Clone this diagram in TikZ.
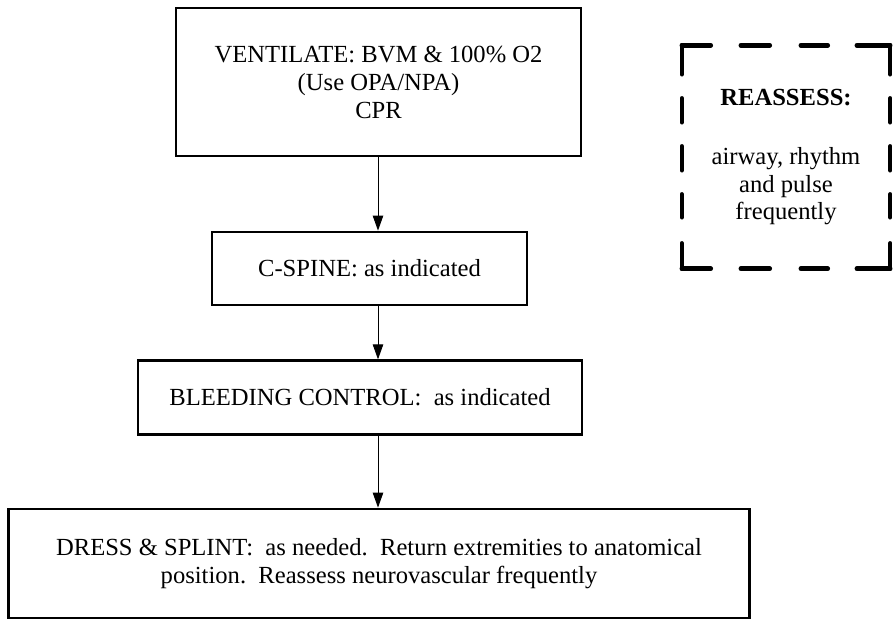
\documentclass[tikz,border=0pt]{standalone}
\usepackage{fontspec}
\setmainfont{Liberation Serif}
\usetikzlibrary{arrows.meta}
\begin{document}
\frenchspacing
\begin{tikzpicture}[x=1pt,y=-1pt,
  box/.style={draw, line width=2.8pt, inner sep=0pt, align=center, font=\fontsize{24.6}{28}\selectfont},
  arr/.style={line width=0.9pt, -{Triangle[length=15pt,width=10.5pt]}},
  dashh/.style={line width=4.5pt, line cap=round, dash pattern=on 29pt off 30pt on 29pt off 31pt on 27pt off 29pt on 40pt},
  dashv/.style={line width=4.5pt, line cap=round, dash pattern=on 29pt off 24pt on 24pt off 24pt on 24pt off 24pt on 23pt off 26pt on 40pt}]
\useasboundingbox (0,0) rectangle (893,620);
\node[box, minimum width=405pt, minimum height=148pt] (b1) at (378.5,82) {VENTILATE: BVM \& 100\% O2\\(Use OPA/NPA)\\CPR};
\node[box, minimum width=315pt, minimum height=73pt] (b2) at (369.5,268.5) {C-SPINE: as indicated};
\node[box, minimum width=444pt, minimum height=73.5pt] (b3) at (360,397.5) {BLEEDING CONTROL:\ \ as indicated};
\node[box, minimum width=740.5pt, minimum height=109pt] (b4) at (379,563.5) {DRESS \& SPLINT:\ \ as needed.\ \ Return extremities to anatomical\\position.\ \ Reassess neurovascular frequently};
\coordinate (ax) at (378,0);
\draw[arr] (b1.south -| ax) -- (b2.north -| ax);
\draw[arr] (b2.south -| ax) -- (b3.north -| ax);
\draw[arr] (b3.south -| ax) -- (b4.north -| ax);
\node[inner sep=0pt, minimum width=208pt, minimum height=223pt, align=center, font=\fontsize{24.6}{27.5}\selectfont] (re) at (786,157) {\textbf{REASSESS:}\\[32pt]airway, rhythm\\and pulse\\frequently};
\draw[dashh] (re.north west) -- (re.north east);
\draw[dashh] (re.south west) -- (re.south east);
\draw[dashv] (re.north west) -- (re.south west);
\draw[dashv] (re.north east) -- (re.south east);
\end{tikzpicture}
\end{document}
